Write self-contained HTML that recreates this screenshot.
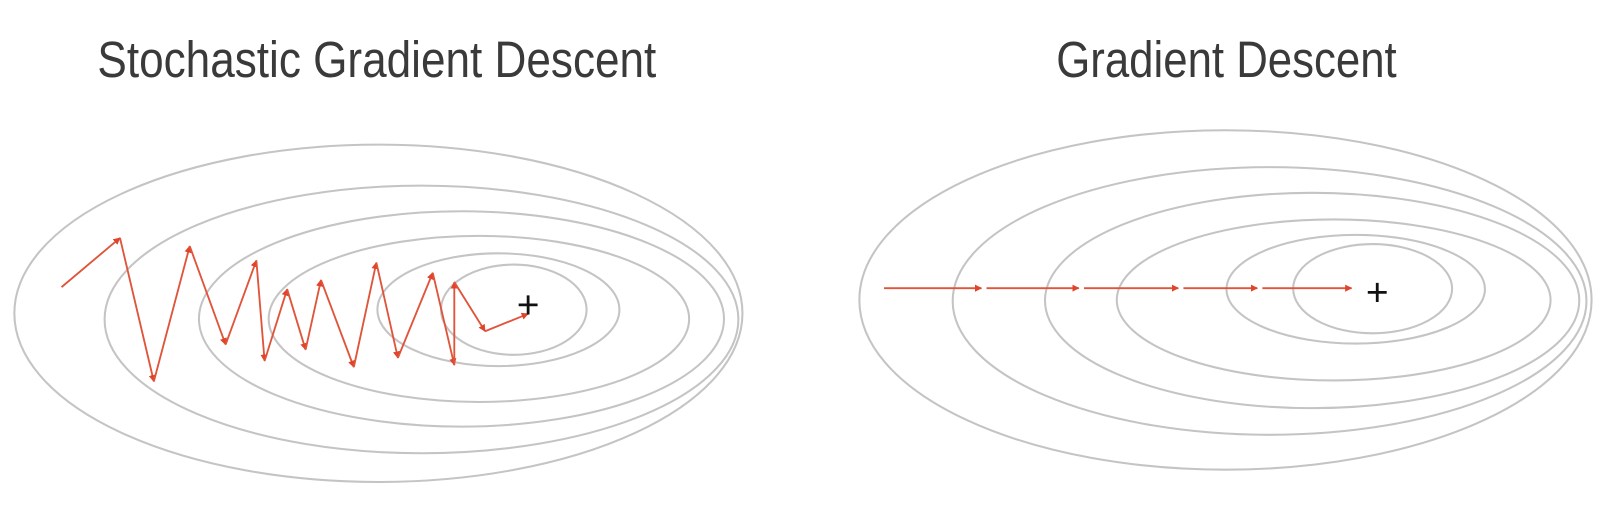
<!DOCTYPE html>
<html><head><meta charset="utf-8"><style>
html,body{margin:0;padding:0;background:#fff;}
svg{display:block;}
</style></head><body>
<svg width="1608" height="529" viewBox="0 0 1608 529" xmlns="http://www.w3.org/2000/svg">
<defs>
<marker id="ah" viewBox="0 0 10 10" refX="9" refY="5" markerWidth="7" markerHeight="7" markerUnits="userSpaceOnUse" orient="auto">
<path d="M0,0 L10,5 L0,10 z" fill="#e0442a"/>
</marker>
</defs>
<g transform="scale(1.0255)">
<text x="95" y="75" font-family="Liberation Sans, sans-serif" font-size="50" fill="#3a3a3a" textLength="545" lengthAdjust="spacingAndGlyphs">Stochastic Gradient Descent</text>
<text x="1030" y="75" font-family="Liberation Sans, sans-serif" font-size="50" fill="#3a3a3a" textLength="332" lengthAdjust="spacingAndGlyphs">Gradient Descent</text>
<g id="left"></g>
<g id="right"></g>
</g>
</svg>
<script>
// contours: [left, right, top, bottom]
const sgdContours = [[14,724,141,470],[102,720,181,442],[194,706,206,416],[262,672,230,392],[368,604,247,357],[430,572,258,346]];
const gdContours = [[838,1552,127,458],[929,1547,163,424],[1019,1540,188,398],[1089,1512,214,371],[1196,1448,229,335],[1261,1416,238,325]];
const sgdPathX = [60,117,150,185,220,250,258,280,298,313,345,367,388,422,443,443,473,515];
const sgdPathY = [280,232,372,240,336,254,352,282,341,273,358,256,349,266,356,275,323,306];
const gdPathX = [862,957,1052,1149,1226,1318];
const gdPathY = [281,281,281,281,281,281];
const sgdMin = [515,297];
const gdMin = [1343,285];
const NS='http://www.w3.org/2000/svg';
function mk(tag, parent, attrs){const e=document.createElementNS(NS,tag);for(const k in attrs)e.setAttribute(k,attrs[k]);parent.appendChild(e);return e;}
function draw(gid, contours, px, py, minPt, gapStart){
  const g=document.getElementById(gid);
  contours.forEach((c,i)=>{
    const el=mk('ellipse',g,{cx:(c[0]+c[1])/2,cy:(c[2]+c[3])/2,rx:(c[1]-c[0])/2,ry:(c[3]-c[2])/2,fill:'none',stroke:'#c4c4c4','stroke-width':2});
    
    
  });
  for(let i=0;i<px.length-1;i++){
    const x1=px[i]+(gapStart&&i>0?5:0);
    const el=mk('line',g,{x1:x1,y1:py[i],x2:px[i+1],y2:py[i+1],stroke:'#e0543a','stroke-width':1.8,'marker-end':'url(#ah)'});
    
    
  }
  const p=mk('text',g,{x:minPt[0],y:minPt[1]+13,'text-anchor':'middle','font-family':'Liberation Sans, sans-serif','font-size':38,fill:'#111'});
  p.textContent='+';
  
  
}
draw('left',sgdContours,sgdPathX,sgdPathY,sgdMin,false);
draw('right',gdContours,gdPathX,gdPathY,gdMin,true);
</script>
</body></html>
